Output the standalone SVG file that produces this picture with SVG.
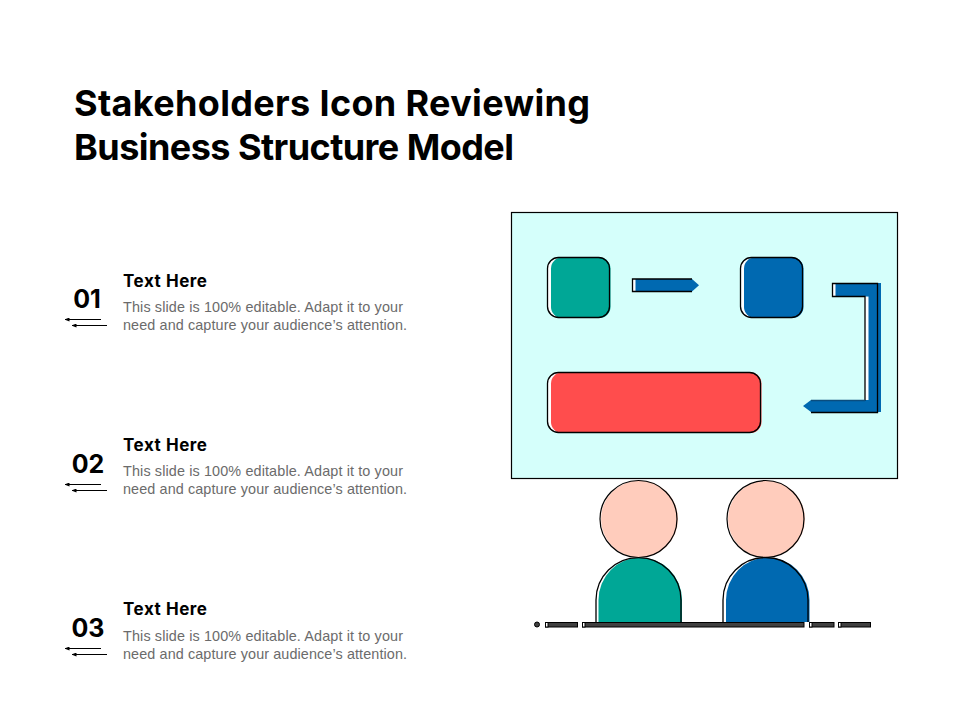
<svg xmlns="http://www.w3.org/2000/svg" width="960" height="720" viewBox="0 0 960 720">
<defs>
<marker id="ah" markerWidth="6" markerHeight="6" refX="0.5" refY="2" orient="auto" markerUnits="userSpaceOnUse"><path d="M5 0L0 2L5 4Z" fill="#000"/></marker>
</defs>
<style>
.t{font-family:"Inter","Liberation Sans",sans-serif;font-weight:700;fill:#000}
.title{font-size:36px}
.num{font-size:25px}
.h{font-size:17px}
.b{font-family:"Liberation Sans",Arial,sans-serif;font-size:14.4px;fill:#6b6b6b}
.o{fill:none;stroke:#000;stroke-width:1.3}
.w{fill:#fff}
.teal{fill:#00a796}
.blue{fill:#0069b1}
.red{fill:#ff4d4d}
.skin{fill:#ffccbc}
.bar{fill:#404040;stroke:#000;stroke-width:1}
.bw{fill:#fff;stroke:#000;stroke-width:1}
.rl{stroke:#000;stroke-width:1.2;fill:none;marker-start:url(#ah)}
</style>
<rect width="960" height="720" fill="#fff"/>
<g id="title"><text class="t title" x="74" y="116" textLength="516" lengthAdjust="spacing">Stakeholders Icon Reviewing</text><text class="t title" x="74" y="160" textLength="440" lengthAdjust="spacing">Business Structure Model</text></g>
<g id="item-1">
<text class="t num" x="87" y="308" text-anchor="middle">01</text>
<line class="rl" x1="65" y1="319.5" x2="101" y2="319.5"/><line class="rl" x1="72" y1="325.5" x2="107" y2="325.5"/>
<text class="t h" x="123" y="287" textLength="84" lengthAdjust="spacing">Text Here</text>
<text class="b" x="123" y="312" textLength="280" lengthAdjust="spacing">This slide is 100% editable. Adapt it to your</text>
<text class="b" x="123" y="330" textLength="284" lengthAdjust="spacing">need and capture your audience’s attention.</text>
</g>
<g id="item-2">
<text class="t num" x="88" y="473" text-anchor="middle">02</text>
<line class="rl" x1="65" y1="484.500" x2="101" y2="484.500"/><line class="rl" x1="72" y1="490.500" x2="107" y2="490.500"/>
<text class="t h" x="123" y="451" textLength="84" lengthAdjust="spacing">Text Here</text>
<text class="b" x="123" y="476" textLength="280" lengthAdjust="spacing">This slide is 100% editable. Adapt it to your</text>
<text class="b" x="123" y="494" textLength="284" lengthAdjust="spacing">need and capture your audience’s attention.</text>
</g>
<g id="item-3">
<text class="t num" x="88" y="637" text-anchor="middle">03</text>
<line class="rl" x1="65" y1="648.500" x2="101" y2="648.500"/><line class="rl" x1="72" y1="654.500" x2="107" y2="654.500"/>
<text class="t h" x="123" y="615" textLength="84" lengthAdjust="spacing">Text Here</text>
<text class="b" x="123" y="641" textLength="280" lengthAdjust="spacing">This slide is 100% editable. Adapt it to your</text>
<text class="b" x="123" y="659" textLength="284" lengthAdjust="spacing">need and capture your audience’s attention.</text>
</g>
<g id="board"><rect x="511.500" y="212.500" width="386" height="266" fill="#d5fffb" stroke="#000" stroke-width="1.200"/></g>
<g id="node-teal">
<rect class="w" x="547.500" y="257.500" width="62" height="60" rx="11"/>
<rect class="teal" x="551" y="257.500" width="59.500" height="60.500" rx="11"/>
<rect class="o" x="547.500" y="257.500" width="62" height="60" rx="11"/>
</g>
<g id="node-blue">
<rect class="w" x="740.500" y="257.500" width="62" height="60" rx="11"/>
<rect class="blue" x="744" y="257.500" width="59.500" height="60.500" rx="11"/>
<rect class="o" x="740.500" y="257.500" width="62" height="60" rx="11"/>
</g>
<g id="node-red">
<rect class="w" x="547.500" y="372.500" width="213" height="60" rx="11"/>
<rect class="red" x="551" y="372.500" width="210.500" height="60.500" rx="11"/>
<rect class="o" x="547.500" y="372.500" width="213" height="60" rx="11"/>
</g>
<g id="connectors">
<rect class="w" x="632.500" y="279" width="4" height="12.500"/>
<path class="blue" d="M635.500 279H692L699 285.200L692 291.500H635.500Z"/>
<path class="o" d="M692 279H632.500V291.500H692"/>
<rect class="w" x="832.500" y="283.500" width="4" height="13"/>
<rect class="w" x="865" y="296.500" width="4" height="104"/>
<path class="blue" d="M835.500 283H881V412H811L803 406L811 400H868.500V296.500H835.500Z"/>
<path class="o" d="M865 400.500V296.500H832.500V283.500H877.500V412.500H811"/>
<path d="M811 400.500H865" fill="none" stroke="#0a4d7e" stroke-width="1.300"/>
</g>
<g id="person-1">
<circle class="skin" cx="639.500" cy="519" r="38.500"/>
<circle cx="638.500" cy="519" r="38.500" fill="none" stroke="#000" stroke-width="1.200"/>
<path class="w" d="M596 622V600A42.500 42.500 0 0 1 681 600V622Z"/>
<path class="teal" d="M598.500 622V600A41.750 42.500 0 0 1 682 600V622Z"/>
<path class="o" d="M596 622V600A42.500 42.500 0 0 1 681 600V622"/>
</g>
<g id="person-2">
<circle class="skin" cx="766.500" cy="519" r="38.500"/>
<circle cx="765.500" cy="519" r="38.500" fill="none" stroke="#000" stroke-width="1.200"/>
<path class="w" d="M723 622V600A42.500 42.500 0 0 1 808 600V622Z"/>
<path class="blue" d="M726 622V600A41.750 42.500 0 0 1 809.500 600V622Z"/>
<path class="o" d="M723 622V600A42.500 42.500 0 0 1 808 600V622"/>
</g>
<g id="table">
<circle cx="537" cy="624.500" r="2.500" fill="#404040" stroke="#000" stroke-width="1"/>
<rect class="bar" x="545.500" y="622.500" width="32" height="4.500"/><rect class="bw" x="545.500" y="622.500" width="2.500" height="4.500"/>
<rect class="bar" x="582.500" y="622.500" width="221.500" height="4.500"/><rect class="bw" x="582.500" y="622.500" width="2.500" height="4.500"/>
<rect class="bar" x="809.500" y="622.500" width="24.500" height="4.500"/><rect class="bw" x="809.500" y="622.500" width="2.500" height="4.500"/>
<rect class="bar" x="838.500" y="622.500" width="32" height="4.500"/><rect class="bw" x="838.500" y="622.500" width="2.500" height="4.500"/>
</g>
</svg>
